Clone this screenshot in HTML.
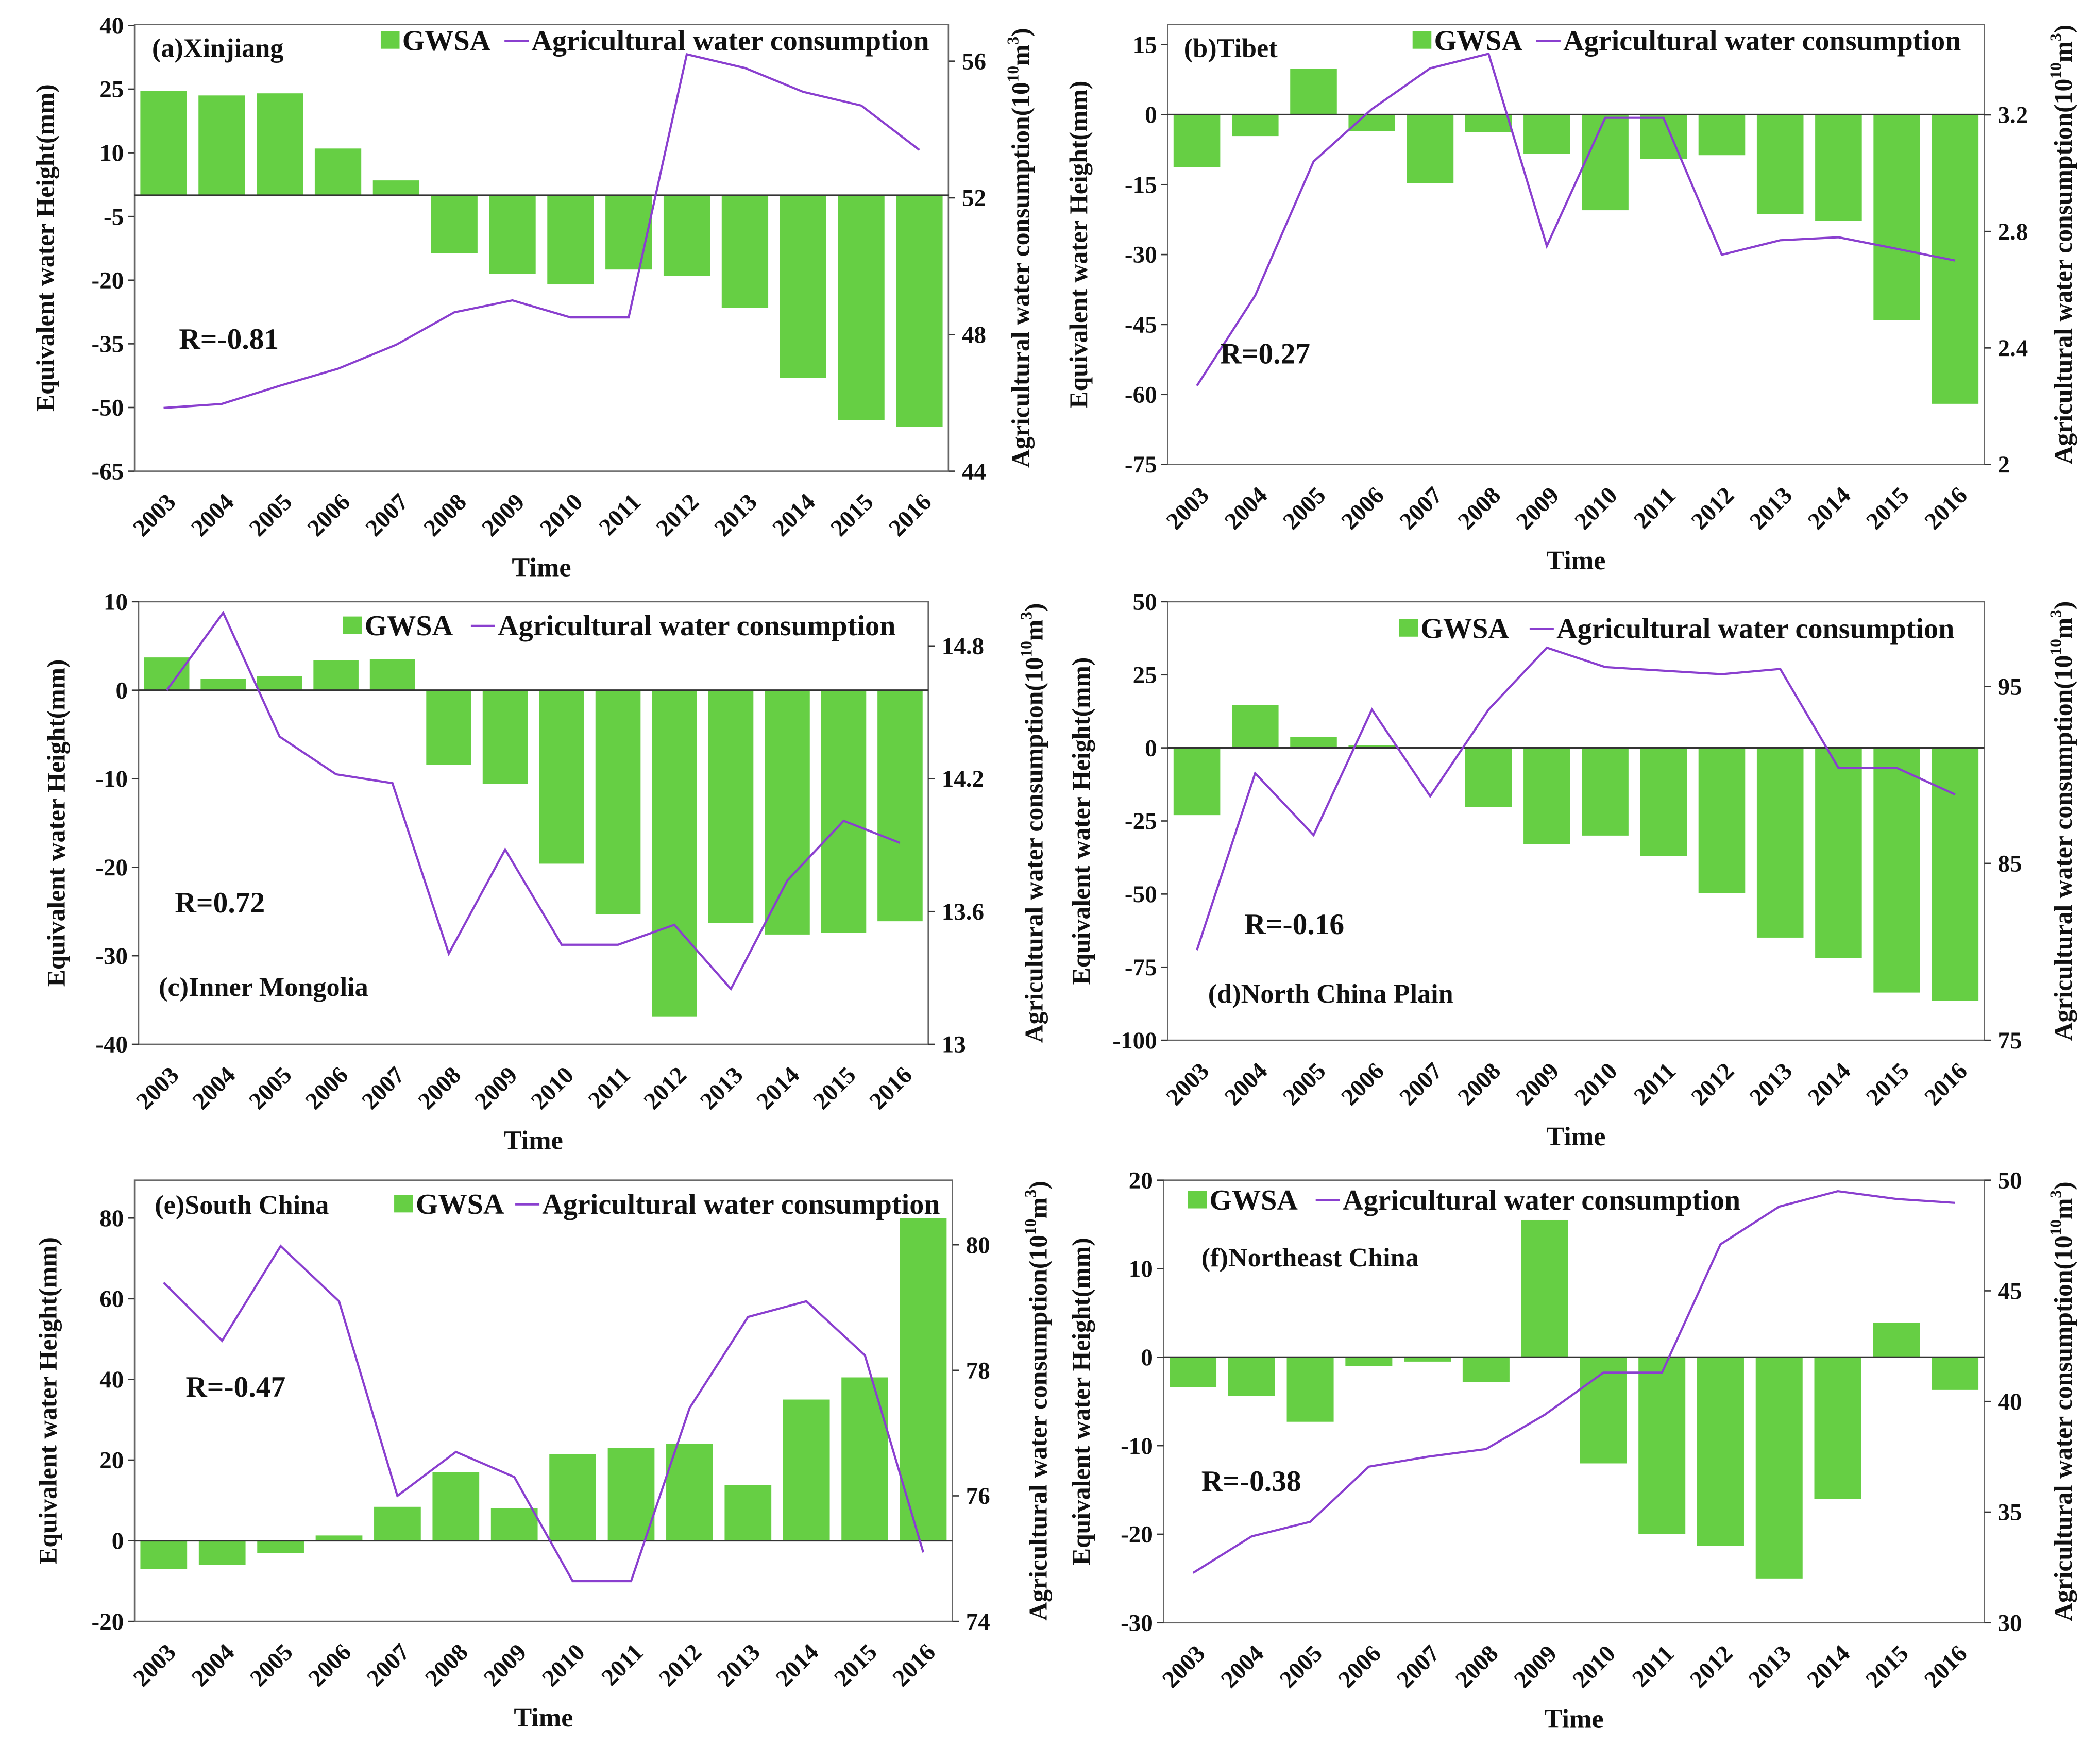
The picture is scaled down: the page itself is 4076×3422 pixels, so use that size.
<!DOCTYPE html>
<html><head><meta charset="utf-8"><style>
html,body{margin:0;padding:0;background:#fff;}
svg{display:block;}
text,tspan{font-family:"Liberation Serif","DejaVu Serif",serif;font-weight:bold;fill:#111;}
</style></head>
<body>
<svg id="chart" width="4076" height="3422" viewBox="0 0 1561 1310" xmlns="http://www.w3.org/2000/svg" font-family="Liberation Serif, serif" font-weight="bold"></svg>
<script>
const years = [2003,2004,2005,2006,2007,2008,2009,2010,2011,2012,2013,2014,2015,2016];
const gwsaA = [24.6,23.5,24,11,3.5,-13.7,-18.5,-21,-17.5,-19,-26.5,-43,-53,-54.6];
const agriA = [45.85,45.97,46.5,47.0,47.7,48.65,49.0,48.5,48.5,56.2,55.8,55.1,54.7,53.4];
const gwsaB = [-11.3,-4.6,9.8,-3.5,-14.7,-3.8,-8.4,-20.5,-9.5,-8.7,-21.3,-22.8,-44.1,-62];
const agriB = [2.27,2.58,3.04,3.22,3.36,3.41,2.75,3.19,3.19,2.72,2.77,2.78,2.74,2.70];
const gwsaC = [3.7,1.3,1.6,3.4,3.5,-8.4,-10.6,-19.6,-25.3,-36.9,-26.3,-27.6,-27.4,-26.1];
const agriC = [14.6,14.95,14.39,14.22,14.18,13.41,13.88,13.45,13.45,13.54,13.25,13.74,14.01,13.91];
const gwsaD = [-23,14.7,3.7,0.9,-0.3,-20.2,-33,-30,-37,-49.7,-64.9,-71.8,-83.7,-86.5];
const agriD = [80.1,90.1,86.6,93.7,88.8,93.7,97.2,96.1,95.9,95.7,96.0,90.4,90.4,88.9];
const gwsaE = [-7,-6,-3,1.3,8.4,17,8,21.5,23,24,13.8,35,40.5,80];
const agriE = [79.4,78.47,79.98,79.1,76.0,76.7,76.3,74.64,74.64,77.4,78.85,79.1,78.24,75.1];
const gwsaF = [-3.4,-4.4,-7.3,-1,-0.5,-2.8,15.5,-12,-20,-21.3,-25,-16,3.9,-3.7];
const agriF = [32.25,33.9,34.56,37.05,37.5,37.85,39.4,41.3,41.3,47.1,48.8,49.5,49.15,48.97];
const leftTicksA=[40,25,10,-5,-20,-35,-50,-65], rightTicksA=[56,52,48,44];
const leftTicksB=[15,0,-15,-30,-45,-60,-75], rightTicksB=[3.2,2.8,2.4,2];
const leftTicksC=[10,0,-10,-20,-30,-40], rightTicksC=[14.8,14.2,13.6,13];
const leftTicksD=[50,25,0,-25,-50,-75,-100], rightTicksD=[95,85,75];
const leftTicksE=[80,60,40,20,0,-20], rightTicksE=[80,78,76,74];
const leftTicksF=[20,10,0,-10,-20,-30], rightTicksF=[50,45,40,35,30];

const NS="http://www.w3.org/2000/svg";
const svg=document.getElementById('chart');
function mk(tag,attrs,parent){const e=document.createElementNS(NS,tag);for(const k in attrs)e.setAttribute(k,attrs[k]);(parent||svg).appendChild(e);return e;}

const panels=[
 {id:'a',x0:100,x1:705,y0:18,y1:350,lmin:-65,lmax:40.2,rmin:44,rmax:57.07,g:gwsaA,w:agriA,lt:leftTicksA,rt:rightTicksA,
  lab:'(a)Xinjiang',labX:113,labY:42,R:'R=-0.81',rX:133,rY:259,legG:283,legL:375,legY:30,rtx:765,ltx:40},
 {id:'b',x0:868,x1:1475,y0:18,y1:345,lmin:-75,lmax:19.3,rmin:2,rmax:3.51,g:gwsaB,w:agriB,lt:leftTicksB,rt:rightTicksB,
  lab:'(b)Tibet',labX:880,labY:42,R:'R=0.27',rX:907,rY:270,legG:1050,legL:1142,legY:30,rtx:1540,ltx:808},
 {id:'c',x0:103,x1:690,y0:447,y1:776,lmin:-40,lmax:10,rmin:13,rmax:15.0,g:gwsaC,w:agriC,lt:leftTicksC,rt:rightTicksC,
  lab:'(c)Inner Mongolia',labX:118,labY:740,R:'R=0.72',rX:130,rY:678,legG:255,legL:350,legY:465,rtx:775,ltx:48},
 {id:'d',x0:868,x1:1475,y0:447,y1:773,lmin:-100,lmax:50,rmin:75,rmax:99.8,g:gwsaD,w:agriD,lt:leftTicksD,rt:rightTicksD,
  lab:'(d)North China Plain',labX:898,labY:745,R:'R=-0.16',rX:925,rY:694,legG:1040,legL:1137,legY:467,rtx:1540,ltx:810},
 {id:'e',x0:100,x1:708,y0:877,y1:1205,lmin:-20,lmax:89.4,rmin:74,rmax:81.03,g:gwsaE,w:agriE,lt:leftTicksE,rt:rightTicksE,
  lab:'(e)South China',labX:115,labY:902,R:'R=-0.47',rX:138,rY:1038,legG:293,legL:383,legY:895,rtx:778,ltx:42},
 {id:'f',x0:865,x1:1475,y0:877,y1:1206,lmin:-30,lmax:20,rmin:30,rmax:50,g:gwsaF,w:agriF,lt:leftTicksF,rt:rightTicksF,
  lab:'(f)Northeast China',labX:893,labY:941,R:'R=-0.38',rX:893,rY:1108,legG:883,legL:978,legY:892,rtx:1540,ltx:810}
];

panels.forEach(p=>{
  const g=mk('g',{});
  
  
  const yL=v=>p.y1-(v-p.lmin)/(p.lmax-p.lmin)*(p.y1-p.y0);
  const yR=v=>p.y1-(v-p.rmin)/(p.rmax-p.rmin)*(p.y1-p.y0);
  const cw=(p.x1-p.x0)/years.length;
  const xC=i=>p.x0+cw*(i+0.5);
  const frame=mk('rect',{x:p.x0,y:p.y0,width:p.x1-p.x0,height:p.y1-p.y0,fill:'none',stroke:'#666','stroke-width':1},g);
  
  
  p.g.forEach((v,i)=>{
    const y0=yL(0),y=yL(v);
    const r=mk('rect',{x:xC(i)-cw*0.4,y:Math.min(y0,y),width:cw*0.8,height:Math.abs(y-y0),fill:'#66cf44'},g);
    
    
  });
  const zl=mk('line',{x1:p.x0,x2:p.x1,y1:yL(0),y2:yL(0),stroke:'#333','stroke-width':1.2},g);
  
  
  const pts=p.w.map((v,i)=>xC(i).toFixed(1)+','+yR(v).toFixed(1)).join(' ');
  const pl=mk('polyline',{points:pts,fill:'none',stroke:'#8a3fcf','stroke-width':1.6},g);
  
  
  p.lt.forEach(v=>{
    mk('line',{x1:p.x0-5,x2:p.x0,y1:yL(v),y2:yL(v),stroke:'#333'},g);
    const t=mk('text',{x:p.x0-8,y:yL(v)+6,'text-anchor':'end','font-size':18},g);
    t.textContent=v;
    
    
  });
  p.rt.forEach(v=>{
    mk('line',{x1:p.x1,x2:p.x1+5,y1:yR(v),y2:yR(v),stroke:'#333'},g);
    const t=mk('text',{x:p.x1+10,y:yR(v)+6,'text-anchor':'start','font-size':18},g);
    t.textContent=v;
    
    
  });
  years.forEach((yv,i)=>{
    const tx=xC(i)+10, ty=p.y1+24;
    const t=mk('text',{x:tx,y:ty,'text-anchor':'end','font-size':18,transform:`rotate(-45 ${tx} ${ty})`},g);
    t.textContent=yv;
    
    
  });
  const tt=mk('text',{x:(p.x0+p.x1)/2,y:p.y1+78,'text-anchor':'middle','font-size':20},g);
  tt.textContent='Time';
  
  
  const cy=(p.y0+p.y1)/2;
  const lt=mk('text',{x:p.ltx,y:cy,'text-anchor':'middle','font-size':19,transform:`rotate(-90 ${p.ltx} ${cy})`},g);
  lt.textContent='Equivalent water Height(mm)';
  
  
  const rt=mk('text',{x:p.rtx,y:cy,'text-anchor':'middle','font-size':19,transform:`rotate(-90 ${p.rtx} ${cy})`},g);
  rt.innerHTML='Agricultural water consumption(10<tspan font-size="12" dy="-8">10</tspan><tspan dy="8">m</tspan><tspan font-size="12" dy="-8">3</tspan><tspan dy="8">)</tspan>';
  
  
  const lb=mk('text',{x:p.labX,y:p.labY,'font-size':20},g);
  lb.textContent=p.lab;
  
  
  const rr=mk('text',{x:p.rX,y:p.rY,'font-size':22},g);
  rr.textContent=p.R;
  
  
  const lgb=mk('rect',{x:p.legG,y:p.legY-7,width:14,height:13,fill:'#66cf44'},g);
  
  
  const lgt=mk('text',{x:p.legG+16,y:p.legY+7,'font-size':21.5},g);
  lgt.textContent='GWSA';
  
  
  const lgl=mk('line',{x1:p.legL,x2:p.legL+18,y1:p.legY,y2:p.legY,stroke:'#8a3fcf','stroke-width':1.6},g);
  
  
  const lgt2=mk('text',{x:p.legL+20,y:p.legY+7,'font-size':21.5},g);
  lgt2.textContent='Agricultural water consumption';
  
  
});
</script>
</body></html>
